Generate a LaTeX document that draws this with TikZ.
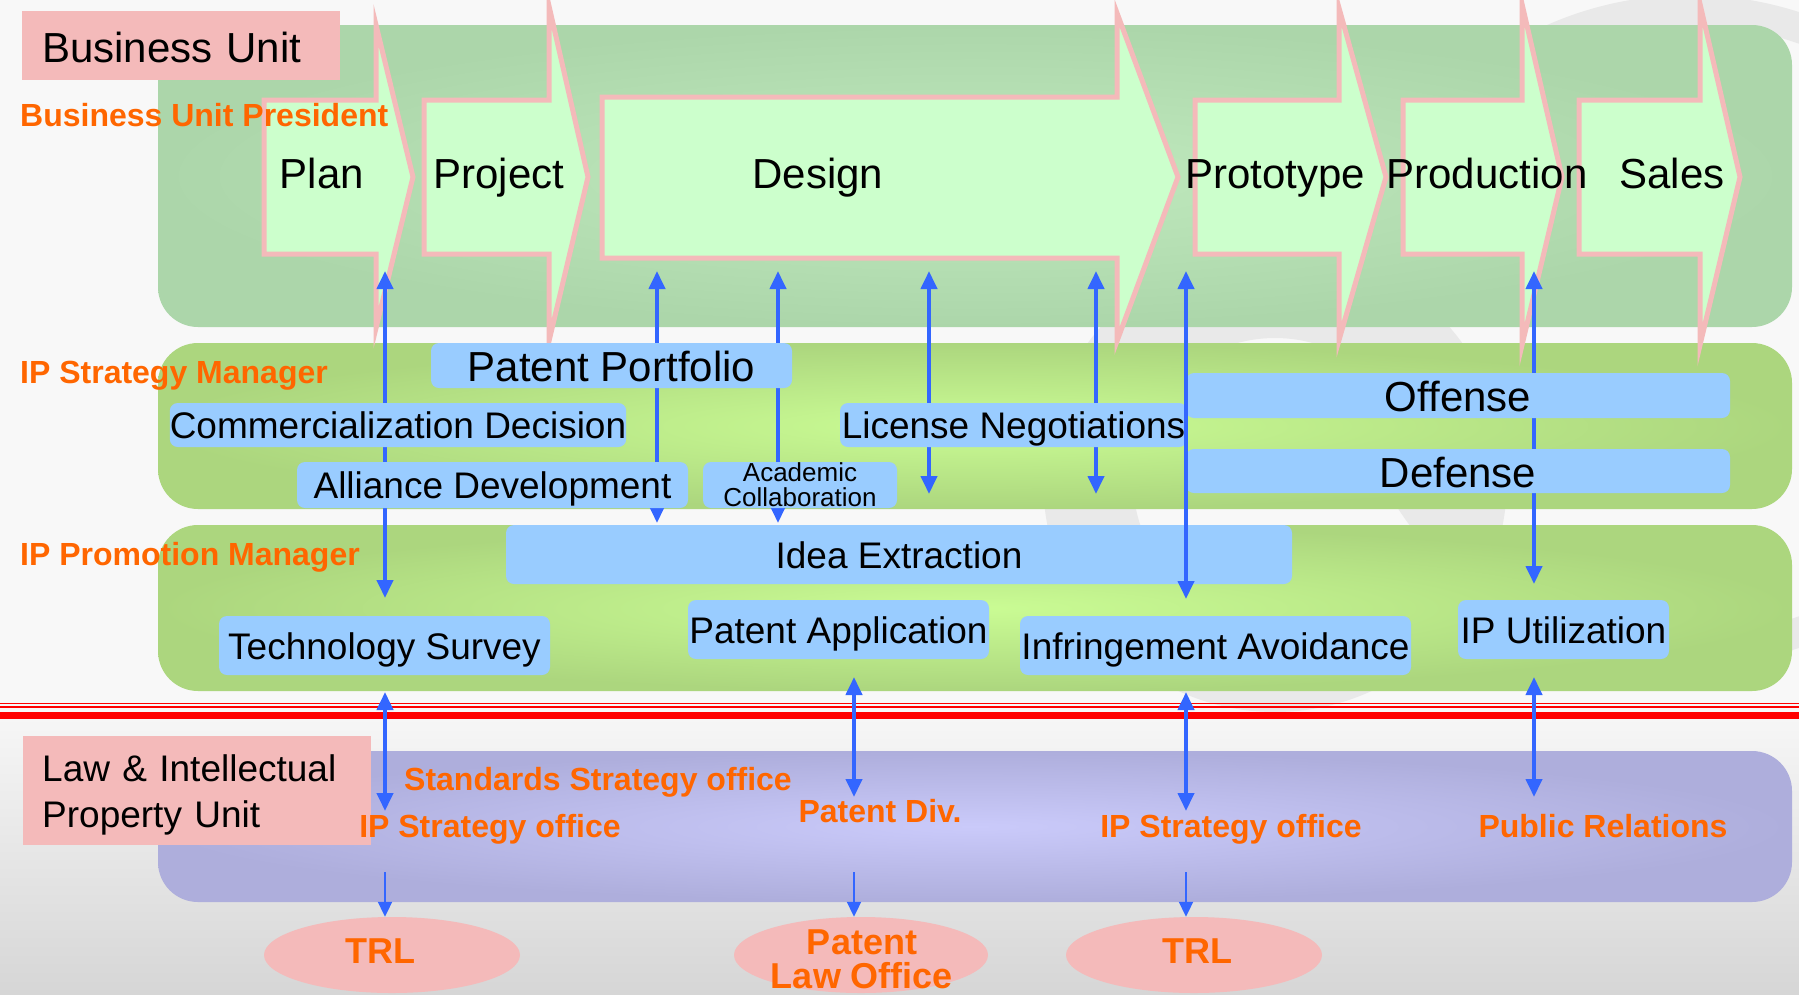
\documentclass[tikz,border=0pt]{standalone}
\usepackage{fontspec}
\setmainfont{Liberation Sans}
\usetikzlibrary{arrows.meta,shapes.geometric}
\definecolor{bandgreen}{HTML}{ACD6AA}
\definecolor{bandgreenc}{HTML}{C0EABE}
\definecolor{bandlime}{HTML}{ACD67E}
\definecolor{bandlimec}{HTML}{CAFC94}
\definecolor{bandlav}{HTML}{AEAEDC}
\definecolor{bandlavc}{HTML}{CACAFA}
\definecolor{pinkc}{HTML}{F4BABA}
\definecolor{chevfill}{HTML}{CCFFCC}
\definecolor{boxblue}{HTML}{99CCFF}
\definecolor{arrowblue}{HTML}{3366FF}
\definecolor{orangec}{HTML}{FF6600}
\definecolor{bgtop}{HTML}{F8F8F8}
\definecolor{bgbot}{HTML}{D6D6D6}
\definecolor{wmgray}{HTML}{E9E9E9}
\definecolor{redline}{HTML}{FF0000}
\tikzset{
  band/.style={rounded corners=40pt},
  chev/.style={fill=chevfill, draw=pinkc, line width=5pt, line join=miter, miter limit=25},
  chevlabel/.style={inner sep=0pt, font=\fontsize{42}{50}\selectfont},
  basebox/.style={fill=boxblue, rounded corners=8pt, inner sep=0pt},
  bluebox/.style={basebox, font=\fontsize{37}{44}\selectfont, text height=27pt, text depth=0pt},
  bigbox/.style={basebox, font=\fontsize{42}{50}\selectfont, text height=32pt, text depth=0pt},
  pinkbox/.style={fill=pinkc, inner ysep=0pt, align=left},
  orangelabel/.style={text=orangec, inner sep=0pt, font=\fontsize{32}{38}\bfseries\selectfont},
  ovalbox/.style={ellipse, fill=pinkc, inner sep=0pt},
  ovaltext/.style={text=orangec, inner sep=0pt, font=\fontsize{36}{34}\bfseries\selectfont},
  dbl/.style={draw=arrowblue, line width=4pt, {Triangle[width=16pt,length=18pt]}-{Triangle[width=16pt,length=18pt]}},
  down/.style={draw=arrowblue, line width=2pt, -{Triangle[width=14pt,length=15pt]}},
}
\begin{document}
\begin{tikzpicture}[x=1pt,y=-1pt]
\useasboundingbox (0,0) rectangle (1799,994);
% background
\fill[bgtop] (0,0) rectangle (1799,994);
\shade[top color=bgtop, bottom color=bgbot] (0,700) rectangle (1799,994);
% faint watermark
\draw[wmgray, line width=90pt] (1275,480) circle[radius=187pt];
\draw[wmgray, line width=30pt] (1690,330) ellipse[x radius=330pt, y radius=320pt];
% bands
\shade[band, inner color=bandgreenc, outer color=bandgreen] (158,25) rectangle (1792,327);
\shade[band, inner color=bandlimec, outer color=bandlime] (158,343) rectangle (1792,509);
\shade[band, inner color=bandlimec, outer color=bandlime] (158,525) rectangle (1792,691);
\shade[band, inner color=bandlavc, outer color=bandlav] (158,751) rectangle (1792,902);
% red separator
\draw[redline, line width=1.2pt] (0,703.5) -- (1799,703.5);
\draw[redline, line width=1.2pt] (0,707) -- (1799,707);
\fill[redline] (0,712) rectangle (1799,719);
% chevrons
\filldraw[chev] (264,100) -- (376,100) -- (376,25) -- (413,177) -- (376,328) -- (376,254) -- (264,254) -- cycle;
\filldraw[chev] (424,100) -- (549,100) -- (549,6) -- (588,177) -- (549,341) -- (549,254) -- (424,254) -- cycle;
\filldraw[chev] (602,97) -- (1117,97) -- (1117,13) -- (1178,177) -- (1117,341) -- (1117,258) -- (602,258) -- cycle;
\filldraw[chev] (1195,100) -- (1339,100) -- (1339,8) -- (1386,177) -- (1339,340) -- (1339,254) -- (1195,254) -- cycle;
\filldraw[chev] (1403,100) -- (1522,100) -- (1522,4) -- (1562,177) -- (1522,345) -- (1522,254) -- (1403,254) -- cycle;
\filldraw[chev] (1579,100) -- (1700,100) -- (1700,4) -- (1740,177) -- (1700,345) -- (1700,254) -- (1579,254) -- cycle;
\node[chevlabel, anchor=base] (plan) at (322,188) {Plan};
\node[chevlabel, anchor=base] (project) at (499,188) {Project};
\node[chevlabel, anchor=base] (design) at (818,188) {Design};
\node[chevlabel, anchor=base] (prototype) at (1275,188) {Prototype};
\node[chevlabel, anchor=base] (production) at (1487,188) {Production};
\node[chevlabel, anchor=base] (sales) at (1672,188) {Sales};
% arrow end points
\coordinate (a1t) at (385,271);  \coordinate (a1b) at (385,598);
\coordinate (a2t) at (657,271);  \coordinate (a2b) at (657,523);
\coordinate (a3t) at (778,271);  \coordinate (a3b) at (778,523);
\coordinate (a4t) at (929,271);  \coordinate (a4b) at (929,494);
\coordinate (a5t) at (1096,271); \coordinate (a5b) at (1096,494);
\coordinate (a6t) at (1186,271); \coordinate (a6b) at (1186,599);
\coordinate (a7t) at (1534,271); \coordinate (a7b) at (1534,584);
\coordinate (b1t) at (385,692);  \coordinate (b1b) at (385,811);
\coordinate (b2t) at (854,677);  \coordinate (b2b) at (854,797);
\coordinate (b3t) at (1186,692); \coordinate (b3b) at (1186,811);
\coordinate (b4t) at (1534,677); \coordinate (b4b) at (1534,797);
\coordinate (t1) at (385,872);
\coordinate (t2) at (854,872);
\coordinate (t3) at (1186,872);
% arrows (behind boxes)
\draw[dbl] (a1t) -- (a1b);
\draw[dbl] (a2t) -- (a2b);
\draw[dbl] (a3t) -- (a3b);
\draw[dbl] (a4t) -- (a4b);
\draw[dbl] (a5t) -- (a5b);
\draw[dbl] (a7t) -- (a7b);
\draw[dbl] (b1t) -- (b1b);
\draw[dbl] (b2t) -- (b2b);
\draw[dbl] (b3t) -- (b3b);
\draw[dbl] (b4t) -- (b4b);
% boxes
\node[bigbox, minimum width=361, minimum height=45] (pp) at (611.5,365.5) {Patent Portfolio};
\node[bluebox, minimum width=456, minimum height=44] (cd) at (398,425) {Commercialization Decision};
\node[bluebox, minimum width=391, minimum height=46] (ad) at (492.5,485) {Alliance Development};
\node[basebox, minimum width=194, minimum height=46, align=center, font=\fontsize{26}{25}\selectfont] (ac) at (800,485) {Academic\\Collaboration};
\node[bluebox, minimum width=347, minimum height=44] (ln) at (1013.5,425) {License Negotiations};
\node[bigbox, minimum width=544, minimum height=45] (off) at (1458,395.5) {Offense};
\node[bigbox, minimum width=544, minimum height=44] (def) at (1458,471) {Defense};
\node[bluebox, minimum width=786, minimum height=59] (ie) at (899,554.5) {Idea Extraction};
\node[bluebox, minimum width=331, minimum height=59] (ts) at (384.5,645.5) {Technology Survey};
\node[bluebox, minimum width=301, minimum height=59] (pa) at (838.5,629.5) {Patent Application};
\node[bluebox, minimum width=391, minimum height=59] (ia) at (1215.5,645.5) {Infringement Avoidance};
\node[bluebox, minimum width=211, minimum height=59] (ipu) at (1563.5,629.5) {IP Utilization};
% this arrow runs over the Idea Extraction box
\draw[dbl] (a6t) -- (a6b);
% unit boxes
\node[pinkbox, anchor=north west, minimum width=318, minimum height=69, text width=278, inner xsep=20pt, font=\fontsize{42}{50}\selectfont, text height=33pt, text depth=0pt] (bu) at (22,11) {Business Unit};
\node[pinkbox, anchor=north west, minimum width=348, minimum height=109, text width=310, inner xsep=19pt, font=\fontsize{37}{46}\selectfont, text height=26pt, text depth=45pt] (lipu) at (23,736) {Law \& Intellectual\\Property Unit};
% orange role labels
\node[orangelabel, anchor=base west] (bup) at (20,126) {Business Unit President};
\node[orangelabel, anchor=base west] (ipsm) at (20,383) {IP Strategy Manager};
\node[orangelabel, anchor=base west] (ippm) at (20,565) {IP Promotion Manager};
\node[orangelabel, anchor=base] (sso) at (598,790) {Standards Strategy office};
\node[orangelabel, anchor=base] (iso1) at (490,837) {IP Strategy office};
\node[orangelabel, anchor=base] (pdiv) at (880,822) {Patent Div.};
\node[orangelabel, anchor=base] (iso2) at (1231,837) {IP Strategy office};
\node[orangelabel, anchor=base] (pr) at (1603,837) {Public Relations};
% outside bodies
\node[ovalbox, minimum width=256, minimum height=76] (trl1) at (392,955) {};
\node[ovaltext, anchor=base] (trl1text) at (380,963) {TRL};
\node[ovalbox, minimum width=254, minimum height=76] (plo) at (861,955) {};
\node[ovaltext, align=center, anchor=north] (plotext) at (862,930) {Patent\\Law Office};
\node[ovalbox, minimum width=256, minimum height=76] (trl2) at (1194,955) {};
\node[ovaltext, anchor=base] (trl2text) at (1197,963) {TRL};
\draw[down] (t1) -- (t1 |- trl1.north);
\draw[down] (t2) -- (t2 |- plo.north);
\draw[down] (t3) -- (t3 |- trl2.north);
\end{tikzpicture}
\end{document}
